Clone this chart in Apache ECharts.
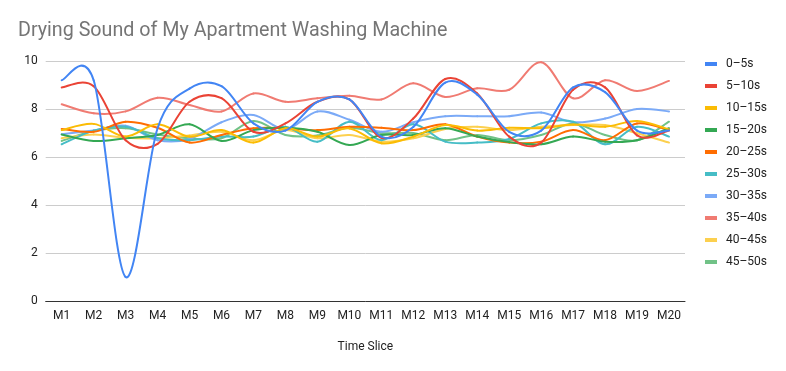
<!DOCTYPE html>
<html><head><meta charset="utf-8">
<script src="https://cdn.jsdelivr.net/npm/echarts@6/dist/echarts.min.js"></script>
<style>html,body{margin:0;padding:0;background:#fff}#c{width:786px;height:371px}</style>
</head><body><div id="c"></div>
<script>
const categories = ['M1','M2','M3','M4','M5','M6','M7','M8','M9','M10','M11','M12','M13','M14','M15','M16','M17','M18','M19','M20'];
const yTicks = [0,2,4,6,8,10];
const s0_5   = [9.2,9.2,1.0,7.2,8.85,8.95,7.4,7.1,8.3,8.4,6.85,7.25,9.1,8.6,7.05,7.1,8.9,8.7,7.1,7.1];
const s5_10  = [8.9,8.95,6.7,6.55,8.3,8.45,7.05,7.4,8.3,8.4,6.8,7.6,9.25,8.65,6.85,6.6,8.8,8.9,6.9,7.1];
const s10_15 = [7.12,7.38,6.85,7.36,6.85,7.12,6.6,7.2,6.85,7.19,6.57,6.85,7.33,7.1,7.22,7.2,7.35,7.26,7.5,7.15];
const s15_20 = [6.94,6.67,6.78,6.92,7.36,6.67,7.12,7.22,7.05,6.5,6.92,6.92,7.2,6.85,6.62,6.53,6.85,6.64,6.7,7.2];
const s20_25 = [7.17,7.05,7.47,7.22,6.6,6.92,7.2,7.2,7.12,7.26,7.22,7.12,7.36,6.85,6.6,6.64,7.12,6.7,7.4,7.12];
const s25_30 = [6.53,7.1,7.26,6.78,6.7,6.85,6.85,7.26,6.64,7.47,6.7,7.36,6.64,6.6,6.75,7.4,7.47,6.53,7.26,6.85];
const s30_35 = [6.95,7.1,7.3,6.7,6.75,7.45,7.75,7.15,7.9,7.55,7.05,7.45,7.7,7.7,7.7,7.85,7.45,7.6,8.0,7.9];
const s35_40 = [8.2,7.82,7.9,8.47,8.17,7.9,8.65,8.3,8.45,8.55,8.4,9.07,8.5,8.86,8.8,9.95,8.45,9.2,8.75,9.17];
const s40_45 = [6.78,6.94,6.8,6.78,6.9,7.05,6.7,7.12,6.78,6.92,6.64,6.78,7.17,7.26,7.12,7.26,7.33,7.33,6.99,6.6];
const s45_50 = [6.67,7.08,7.2,6.94,6.78,6.78,7.5,6.92,6.9,7.22,7.0,7.0,6.7,6.92,6.7,6.92,7.4,6.92,6.7,7.47];

const names = ['0–5s','5–10s','10–15s','15–20s','20–25s','25–30s','30–35s','35–40s','40–45s','45–50s'];
const values = [s0_5,s5_10,s10_15,s15_20,s20_25,s25_30,s30_35,s35_40,s40_45,s45_50];
const colors = ['#4285f4','#ea4335','#fbbc04','#34a853','#ff6d01','#46bdc6','#7baaf7','#f07b72','#fcd04f','#71c287'];

function curveSeries(name, vals, color, z) {
  const n = vals.length;
  const idx = k => Math.max(0, Math.min(n - 1, k));
  return {
    name: name, type: 'custom', z: z,
    data: vals.map((v, i) => [i, v]),
    encode: {x: 0, y: 1},
    itemStyle: {color: color},
    renderItem: function (params, api) {
      const i = params.dataIndex;
      if (i >= n - 1) return null;
      const P = k => api.coord([idx(k), vals[idx(k)]]);
      const p0 = P(i - 1), p1 = P(i), p2 = P(i + 1), p3 = P(i + 2);
      const t = 1 / 6;
      return {
        type: 'bezierCurve',
        shape: {
          x1: p1[0], y1: p1[1], x2: p2[0], y2: p2[1],
          cpx1: p1[0] + (p2[0] - p0[0]) * t, cpy1: p1[1] + (p2[1] - p0[1]) * t,
          cpx2: p2[0] - (p3[0] - p1[0]) * t, cpy2: p2[1] - (p3[1] - p1[1]) * t
        },
        style: {stroke: color, lineWidth: 2, fill: 'none', lineCap: 'round'}
      };
    }
  };
}

const chart = echarts.init(document.getElementById('c'), null, {renderer: 'canvas'});
chart.setOption({
  animation: false,
  color: colors,
  textStyle: {fontFamily: 'Roboto, Arial, sans-serif'},
  title: {
    text: 'Drying Sound of My Apartment Washing Machine',
    left: 13, top: 16,
    textStyle: {fontSize: 19.7, fontWeight: 'normal', color: '#757575', fontFamily: 'Roboto, Arial, sans-serif'}
  },
  legend: {
    orient: 'vertical', left: 700, top: 53,
    icon: 'rect', itemWidth: 12, itemHeight: 4, itemGap: 10,
    textStyle: {fontSize: 12, color: '#222', padding: [0, 0, 0, 4]},
    data: names
  },
  grid: {left: 45.7, right: 101, top: 61, bottom: 70},
  xAxis: {
    type: 'category', data: categories, boundaryGap: true,
    name: 'Time Slice', nameLocation: 'middle', nameGap: 40,
    nameTextStyle: {fontSize: 12, color: '#222'},
    axisTick: {show: false},
    axisLine: {lineStyle: {color: '#333', width: 1}},
    axisLabel: {fontSize: 12, color: '#222', margin: 9, interval: 0}
  },
  yAxis: {
    type: 'value', min: yTicks[0], max: yTicks[yTicks.length - 1], interval: 2,
    axisLine: {show: false}, axisTick: {show: false},
    axisLabel: {fontSize: 12, color: '#222', margin: 8},
    splitLine: {lineStyle: {color: '#cccccc', width: 1}}
  },
  series: names.map((n, i) => curveSeries(n, values[i], colors[i], 10 - i))
});
</script></body></html>
